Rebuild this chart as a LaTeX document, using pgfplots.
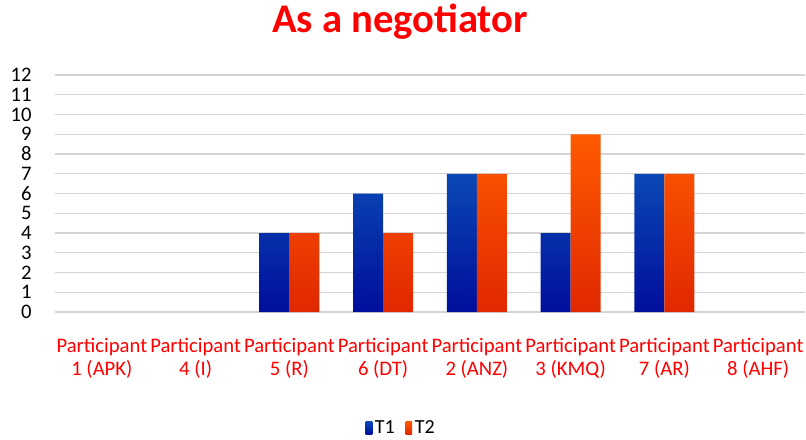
\documentclass[border=0pt]{standalone}
\usepackage{pgfplots}
\pgfplotsset{compat=1.18}
\usepackage{fontspec}
\setmainfont{Carlito}
\definecolor{redlab}{HTML}{FF0000}
\definecolor{bluetop}{HTML}{0A48B4}
\definecolor{bluebot}{HTML}{000E9C}
\definecolor{orgtop}{HTML}{FF5A00}
\definecolor{orgbot}{HTML}{E02800}
\definecolor{gridc}{HTML}{D4D4D4}

\begin{document}
\begin{tikzpicture}[x=0.75pt,y=0.75pt]
\useasboundingbox (-55,-127) rectangle (751,312);
\begin{axis}[
  at={(0,0)}, anchor=south west,
  scale only axis, width=562.5pt, height=177.75pt,
  xmin=-0.5, xmax=7.5, ymin=0, ymax=12,
  ybar=0pt, bar width=0.32,
  axis line style={draw=none},
  major tick length=0pt,
  ytick={0,...,12},
  ymajorgrids, grid style={gridc, line width=1.1pt},
  xtick={0,...,7},
  xticklabels={{Participant\\1 (APK)},{Participant\\4 (I)},{Participant\\5 (R)},{Participant\\6 (DT)},{Participant\\2 (ANZ)},{Participant\\3 (KMQ)},{Participant\\7 (AR)},{Participant\\8 (AHF)}},
  xticklabel style={font=\fontsize{15.5}{17.5}\selectfont, text=redlab, align=center, yshift=-16pt},
  yticklabel style={font=\fontsize{15.5}{15.5}\selectfont, xshift=-14pt},
  /pgf/number format/assume math mode=true,
  title={As a negotiator},
  title style={font=\fontsize{30.5}{31}\bfseries, text=redlab, at={(rel axis cs:0.46,1)}, anchor=center, yshift=34pt},
  legend columns=2,
  legend style={draw=none, at={(rel axis cs:0.462,0)}, anchor=center, yshift=-87pt,
    font=\fontsize{15}{16}\selectfont, /tikz/every even column/.append style={column sep=6pt}},
  legend image code/.code={\path[#1] (0pt,-5pt) rectangle (5pt,5pt);},
]
\addplot[draw=none, top color=bluetop, bottom color=bluebot] coordinates {(2,4) (3,6) (4,7) (5,4) (6,7)};
\addplot[draw=none, top color=orgtop, bottom color=orgbot] coordinates {(2,4) (3,4) (4,7) (5,9) (6,7)};
\legend{T1,T2}
\end{axis}
\end{tikzpicture}
\end{document}
